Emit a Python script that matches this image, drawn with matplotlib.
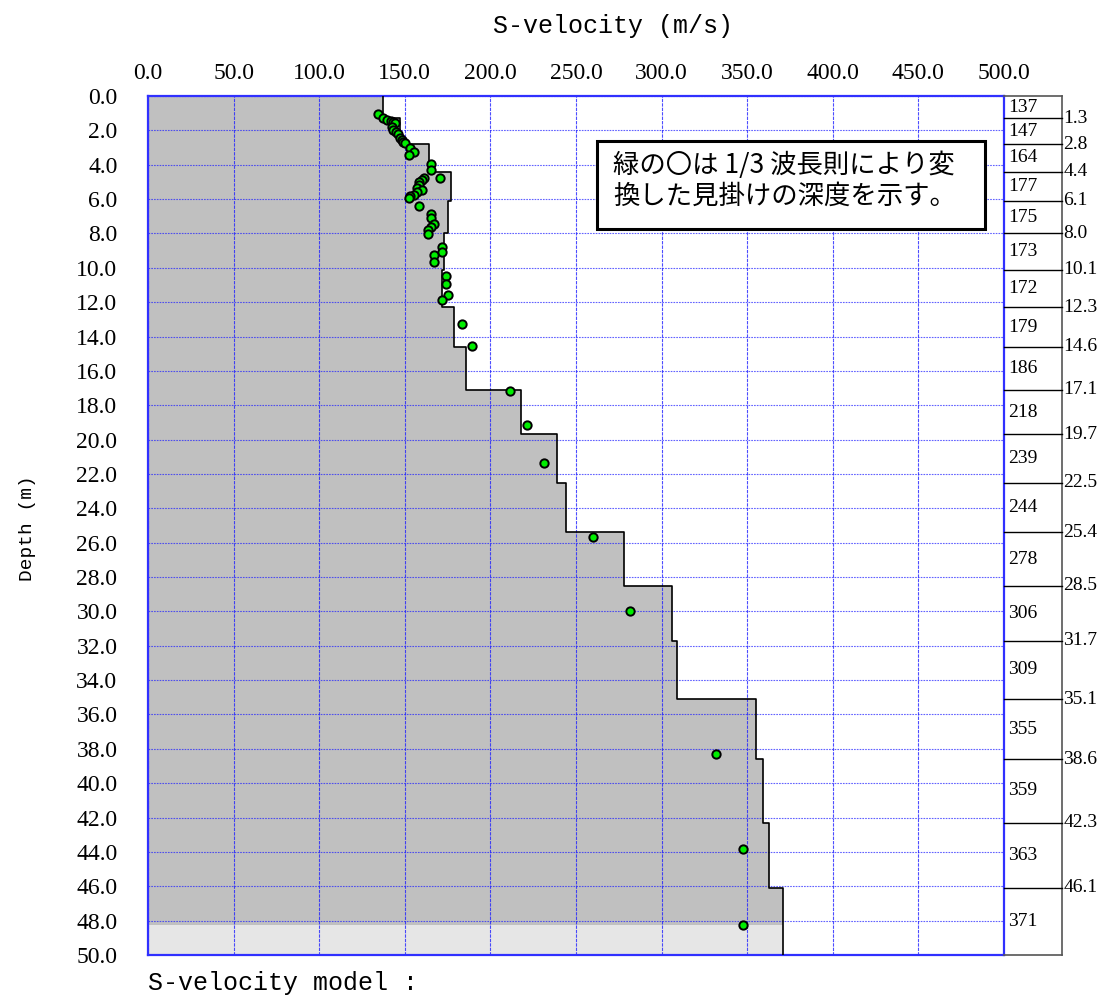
import matplotlib
matplotlib.use("Agg")
import matplotlib.pyplot as plt
from matplotlib.patches import Rectangle, Polygon
import numpy as np

# Layered S-wave velocity model (m/s) and layer bottoms (m)
layer_vs = [137, 147, 164, 177, 175, 173, 172, 179, 186, 218,
            239, 244, 278, 306, 309, 355, 359, 363, 371]
layer_bottoms = [1.3, 2.8, 4.4, 6.1, 8.0, 10.1, 12.3, 14.6, 17.1, 19.7,
                 22.5, 25.4, 28.5, 31.7, 35.1, 38.6, 42.3, 46.1]
model_depth = 50.0

# Apparent depths from the 1/3-wavelength rule (phase velocity, depth)
obs_vs = [134.5, 137.5, 139.8, 141.7, 143.3, 144.5, 142.3, 143.3, 145.0, 146.2,
          147.2, 148.2, 149.1, 150.1, 153.0, 155.4, 152.6, 165.3, 165.5, 170.6,
          161.4, 159.9, 158.5, 158.1, 157.3, 159.9, 157.0, 155.6, 153.0, 152.6,
          158.5, 165.3, 165.5, 167.3, 165.3, 163.8, 163.4, 171.5, 171.5, 167.3,
          167.1, 173.9, 173.9, 175.4, 171.5, 183.6, 189.3, 211.4, 221.4, 231.3,
          260.0, 281.5, 331.8, 347.5, 347.5]
obs_depth = [1.07, 1.26, 1.38, 1.46, 1.53, 1.60, 1.78, 1.98, 2.07, 2.23,
             2.42, 2.56, 2.66, 2.75, 3.00, 3.28, 3.43, 3.96, 4.30, 4.79,
             4.79, 4.89, 5.03, 5.18, 5.33, 5.47, 5.61, 5.76, 5.80, 5.96,
             6.40, 6.89, 7.08, 7.47, 7.62, 7.80, 8.05, 8.77, 9.10, 9.26,
             9.64, 10.46, 10.93, 11.58, 11.87, 13.30, 14.55, 17.17, 19.15, 21.36,
             25.67, 29.98, 38.30, 43.83, 48.25]

vel_ticks = np.arange(0, 501, 50)
depth_ticks = np.arange(0, 51, 2)

serif = "Liberation Serif"
mono = "Liberation Mono"
cjk = ["Noto Sans CJK JP", "DejaVu Sans"]

W, H = 1101, 996
fig = plt.figure(figsize=(W / 100, H / 100), dpi=100)
fig.patch.set_facecolor("white")

L, R, T, B = 148, 1004, 96, 955
ax = fig.add_axes([L / W, 1 - B / H, (R - L) / W, (B - T) / H])
ax.set_xlim(0, 500)
ax.set_ylim(model_depth, 0)

# step profile
tops = [0.0] + layer_bottoms
bots = layer_bottoms + [model_depth]
sx, sy = [], []
for v, t, b in zip(layer_vs, tops, bots):
    sx += [v, v]
    sy += [t, b]

# shaded area down to the deepest apparent depth, lighter below it
dmax = max(obs_depth)
dark_x, dark_y = [], []
for v, t, b in zip(layer_vs, tops, bots):
    if t >= dmax:
        break
    dark_x += [v, v]
    dark_y += [t, min(b, dmax)]
dark_poly = [(0, 0)] + list(zip(dark_x, dark_y)) + [(0, dmax)]
ax.add_patch(Polygon(dark_poly, closed=True, facecolor="#c0c0c0",
                     edgecolor="none", zorder=1))
v_last = layer_vs[-1]
ax.add_patch(Polygon([(0, dmax), (v_last, dmax), (v_last, model_depth), (0, model_depth)],
                     closed=True, facecolor="#e6e6e6", edgecolor="none", zorder=1))

# grid
for v in vel_ticks:
    ax.axvline(v, color="#2020ff", lw=0.8, ls=(0, (3, 1)), alpha=0.8, zorder=2)
for d in depth_ticks:
    ax.axhline(d, color="#2020ff", lw=0.8, ls=(0, (1.5, 1)), alpha=0.7, zorder=2)

ax.plot(sx, sy, color="black", lw=1.2, zorder=3)
ax.plot(obs_vs, obs_depth, ls="none", marker="o", ms=6, mfc="#00ee00",
        mec="black", mew=1.4, zorder=4)

for s in ax.spines.values():
    s.set_color("#3030ff")
    s.set_linewidth(1.6)

ax.xaxis.tick_top()
ax.set_xticks(vel_ticks)
ax.set_xticklabels([f"{v:.1f}" for v in vel_ticks], fontfamily=serif, fontsize=17)
ax.set_yticks(depth_ticks)
ax.set_yticklabels([f"{d:.1f}" for d in depth_ticks], fontfamily=serif, fontsize=17)
ax.tick_params(axis="x", length=0, pad=9)
ax.tick_params(axis="y", length=0, pad=22)

# layer table on the right
tx = fig.add_axes([R / W, 1 - B / H, 58 / W, (B - T) / H])
tx.set_xlim(0, 1)
tx.set_ylim(model_depth, 0)
tx.axis("off")
tx.plot([0, 1], [0, 0], color="#555555", lw=1.2, clip_on=False)
tx.plot([0, 1], [model_depth, model_depth], color="#555555", lw=1.2, clip_on=False)
tx.plot([1, 1], [0, model_depth], color="#555555", lw=1.2, clip_on=False)
for b in layer_bottoms:
    tx.plot([0, 1], [b, b], color="black", lw=1.0, clip_on=False)
    tx.text(1.02, b, f"{b:.1f}", ha="left", va="center", fontfamily=serif,
            fontsize=14, clip_on=False)
for v, t, b in zip(layer_vs, tops, bots):
    tx.text(0.07, (t + b) / 2, f"{v}", ha="left", va="center", fontfamily=serif,
            fontsize=14, clip_on=False)

# note box
bx0, by0, bx1, by1 = 597, 141, 985, 229
fig.patches.append(Rectangle((bx0 / W, 1 - by1 / H), (bx1 - bx0) / W, (by1 - by0) / H,
                             transform=fig.transFigure, facecolor="white",
                             edgecolor="black", lw=2.2, zorder=10))
fig.text(613 / W, 1 - 165 / H, "緑の〇は 1/3 波長則により変", family=cjk,
         fontsize=19, ha="left", va="center", zorder=11)
fig.text(613 / W, 1 - 196 / H, "換した見掛けの深度を示す。", family=cjk,
         fontsize=19, ha="left", va="center", zorder=11)

# titles
fig.text(613 / W, 1 - 26 / H, "S-velocity (m/s)", family=mono, fontsize=18,
         ha="center", va="center")
fig.text(28 / W, 1 - 528 / H, "Depth (m)", family=mono, fontsize=14,
         ha="center", va="center", rotation=90)
fig.text(148 / W, 1 - 983 / H, "S-velocity model :", family=mono, fontsize=18,
         ha="left", va="center")

fig.savefig("out.png", dpi=100)
